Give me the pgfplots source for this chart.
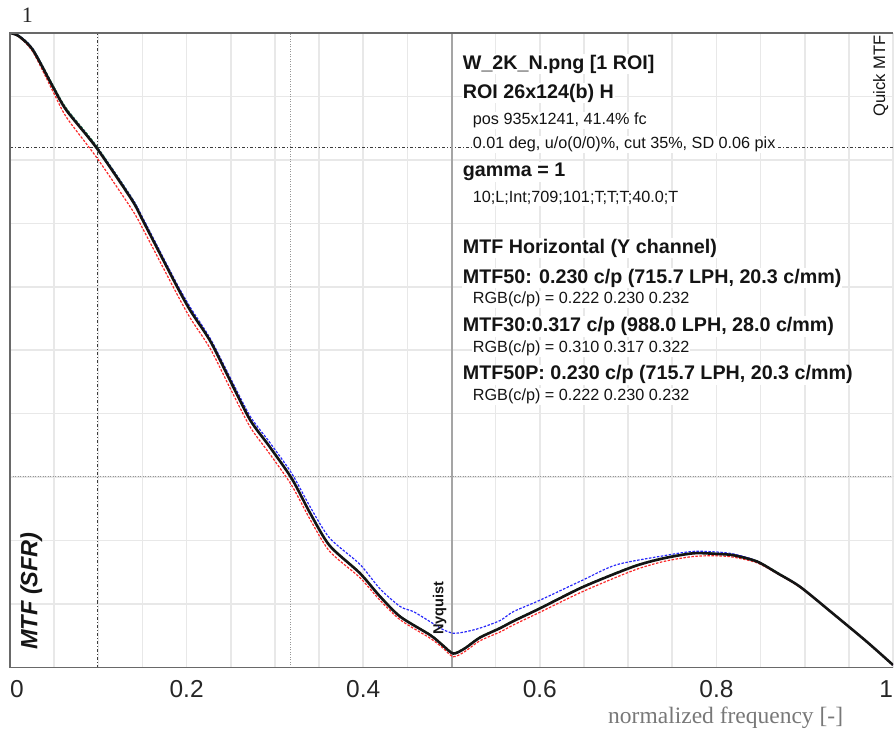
\documentclass[border=0pt]{standalone}
\usepackage{pgfplots}
\pgfplotsset{compat=1.18}
\usepackage{fontspec}
\setmainfont{Liberation Sans}
\newfontfamily\seriffont{Liberation Serif}
\definecolor{framec}{RGB}{105,105,105}
\definecolor{gridc}{RGB}{232,232,232}
\definecolor{nyqc}{RGB}{165,165,165}
\definecolor{ddc}{RGB}{60,60,60}
\definecolor{dotc}{RGB}{150,150,150}
\definecolor{rc}{RGB}{250,40,40}
\definecolor{bc}{RGB}{40,40,250}
\definecolor{gc}{RGB}{30,170,30}
\definecolor{labc}{RGB}{120,120,120}
\begin{document}
\begin{tikzpicture}[x=1pt,y=1pt]
\path[use as bounding box] (-10,-63.5) rectangle (884,667.5);
\begin{axis}[
  at={(0,0)}, anchor=south west,
  scale only axis, width=883pt, height=634.5pt,
  xmin=0, xmax=1, ymin=0, ymax=1,
  axis line style={draw=none},
  tick style={draw=none},
  xtick={0,0.2,0.4,0.6,0.8,1},
  xticklabels={\makebox[0pt][l]{0},0.2,0.4,0.6,0.8,\makebox[0pt][r]{1}},
  minor xtick={0.05,0.1,0.15,0.25,0.3,0.35,0.45,0.5,0.55,0.65,0.7,0.75,0.85,0.9,0.95},
  ytick={0.1,0.2,0.3,0.4,0.5,0.6,0.7,0.8,0.9},
  yticklabels={},
  grid=both,
  major grid style={draw=gridc, line width=1.6pt},
  minor grid style={draw=gridc, line width=1.6pt},
  xticklabel style={font=\fontsize{24.5}{24.5}\selectfont, inner sep=0pt, anchor=north, yshift=-12.5pt, text=black!85},
  /pgf/number format/assume math mode=true,
  every axis plot/.append style={smooth, tension=0.45},
]
% reference lines
\addplot[sharp plot, draw=ddc, line width=1pt, dash pattern=on 3pt off 2pt on 1pt off 2pt] coordinates {(0.0993,0) (0.0993,1)};
\addplot[sharp plot, draw=ddc, line width=1pt, dash pattern=on 3pt off 2pt on 1pt off 2pt] coordinates {(0,0.819) (1,0.819)};
\addplot[sharp plot, draw=dotc, line width=1pt, dash pattern=on 1pt off 1.5pt] coordinates {(0.318,0) (0.318,1)};
\addplot[sharp plot, draw=dotc, line width=1pt, dash pattern=on 1pt off 1.5pt] coordinates {(0,0.301) (1,0.301)};
\addplot[sharp plot, draw=nyqc, line width=2pt] coordinates {(0.5,0) (0.5,1)};
% G channel
\addplot[draw=gc, line width=1.2pt, dash pattern=on 2.5pt off 1.5pt] coordinates {
(0,1.000) (0.010,0.996) (0.026,0.975) (0.049,0.917) (0.064,0.881) (0.098,0.822) (0.138,0.740) (0.151,0.706)
(0.187,0.608) (0.204,0.565) (0.227,0.515) (0.249,0.454) (0.272,0.391) (0.294,0.349) (0.319,0.299) (0.340,0.244)
(0.362,0.193) (0.396,0.150) (0.419,0.113) (0.442,0.081) (0.476,0.052) (0.490,0.036) (0.502,0.023) (0.515,0.031)
(0.532,0.048) (0.555,0.063) (0.570,0.074) (0.600,0.094) (0.649,0.128) (0.706,0.160) (0.740,0.173) (0.774,0.181)
(0.800,0.180) (0.819,0.178) (0.846,0.168) (0.870,0.149) (0.895,0.127) (0.932,0.085) (0.970,0.041) (1.000,0.004)};
% R channel
\addplot[draw=rc, line width=1.2pt, dash pattern=on 2.5pt off 1.5pt] coordinates {
(0,1.000) (0.010,0.994) (0.026,0.970) (0.049,0.907) (0.064,0.867) (0.098,0.804) (0.138,0.722) (0.151,0.690)
(0.187,0.594) (0.204,0.551) (0.227,0.502) (0.249,0.441) (0.272,0.379) (0.294,0.337) (0.319,0.287) (0.340,0.233)
(0.362,0.183) (0.396,0.142) (0.419,0.106) (0.442,0.075) (0.476,0.046) (0.490,0.031) (0.502,0.017) (0.515,0.025)
(0.532,0.042) (0.555,0.056) (0.570,0.067) (0.600,0.087) (0.649,0.120) (0.706,0.153) (0.740,0.167) (0.774,0.175)
(0.800,0.176) (0.819,0.174) (0.846,0.165) (0.870,0.147) (0.895,0.126) (0.932,0.085) (0.970,0.041) (1.000,0.004)};
% B channel
\addplot[draw=bc, line width=1.2pt, dash pattern=on 2.5pt off 1.5pt] coordinates {
(0,1.000) (0.010,0.996) (0.026,0.975) (0.049,0.916) (0.064,0.880) (0.098,0.821) (0.138,0.740) (0.151,0.707)
(0.187,0.610) (0.204,0.568) (0.227,0.518) (0.249,0.458) (0.272,0.396) (0.294,0.355) (0.319,0.306) (0.340,0.253)
(0.362,0.204) (0.396,0.163) (0.419,0.124) (0.442,0.096) (0.457,0.088) (0.476,0.072) (0.490,0.060) (0.502,0.054)
(0.515,0.056) (0.532,0.062) (0.555,0.074) (0.570,0.088) (0.600,0.106) (0.649,0.138) (0.687,0.162) (0.744,0.177)
(0.774,0.183) (0.800,0.182) (0.819,0.179) (0.846,0.168) (0.870,0.148) (0.895,0.127) (0.932,0.085) (0.970,0.041) (1.000,0.004)};
% Y channel
\addplot[draw=black!92, line width=2.6pt, line join=round] coordinates {
(0,1.000) (0.010,0.995) (0.026,0.973) (0.049,0.914) (0.064,0.878) (0.098,0.819) (0.138,0.737) (0.151,0.703)
(0.187,0.606) (0.204,0.563) (0.227,0.514) (0.249,0.453) (0.272,0.390) (0.294,0.348) (0.319,0.298) (0.340,0.243)
(0.362,0.192) (0.396,0.149) (0.419,0.112) (0.442,0.080) (0.476,0.051) (0.490,0.035) (0.502,0.022) (0.515,0.030)
(0.532,0.047) (0.555,0.062) (0.570,0.073) (0.600,0.093) (0.649,0.127) (0.706,0.159) (0.740,0.172) (0.774,0.180)
(0.800,0.179) (0.819,0.177) (0.846,0.167) (0.870,0.148) (0.895,0.127) (0.932,0.085) (0.970,0.041) (1.000,0.004)};
\end{axis}
% frame (left, top, bottom)
\draw[framec, line width=1.5pt] (883,0) -- (0,0) -- (0,634.5) -- (883,634.5);
% info text
\tikzset{bt/.style={anchor=base west, fill=white, inner sep=1pt, font=\fontsize{19.7}{20}\selectfont\bfseries, text=black!92},
         st/.style={anchor=base west, fill=white, inner sep=1pt, font=\fontsize{16.2}{17}\selectfont, text=black!92}}
\node[bt] at (451.7,598.2) {W\_2K\_N.png [1 ROI]};
\node[bt] at (451.7,569.2) {ROI 26x124(b) H};
\node[st] at (461.7,543.2) {pos 935x1241, 41.4\% fc};
\node[st] at (461.7,519.2) {0.01 deg, u/o(0/0)\%, cut 35\%, SD 0.06 pix};
\node[bt] at (451.7,490.8) {gamma = 1};
\node[st] at (461.7,464.8) {10;L;Int;709;101;T;T;T;40.0;T};
\node[bt] at (451.7,414.2) {MTF Horizontal (Y channel)};
\node[bt] at (451.7,384.2) {MTF50: 0.230 c/p (715.7 LPH, 20.3 c/mm)};
\node[st] at (461.7,364.2) {RGB(c/p) = 0.222 0.230 0.232};
\node[bt] at (451.7,335.8) {MTF30:0.317 c/p (988.0 LPH, 28.0 c/mm)};
\node[st] at (461.7,314.8) {RGB(c/p) = 0.310 0.317 0.322};
\node[bt] at (451.7,287.5) {MTF50P: 0.230 c/p (715.7 LPH, 20.3 c/mm)};
\node[st] at (461.7,266.8) {RGB(c/p) = 0.222 0.230 0.232};
% rotated labels
\node[rotate=90, anchor=base, inner sep=0pt, font=\fontsize{23.5}{24}\selectfont\bfseries\itshape, text=black!92] at (27.3,76.5) {MTF (SFR)};
\node[rotate=90, anchor=base, inner sep=0pt, font=\fontsize{16.6}{17}\selectfont, text=black!92] at (875,591.7) {Quick MTF};
\node[rotate=90, anchor=base, inner sep=0pt, font=\fontsize{14.5}{15}\selectfont\bfseries, text=black!92] at (433.3,59.2) {Nyquist};
% serif labels
\node[anchor=base, inner sep=0pt, font=\seriffont\fontsize{22}{22}\selectfont, text=black!85] at (17.4,644.8) {1};
\node[anchor=base west, inner sep=0pt, font=\seriffont\fontsize{23.5}{24}\selectfont, text=labc] at (598,-55.5) {normalized frequency [-]};
\end{tikzpicture}
\end{document}
